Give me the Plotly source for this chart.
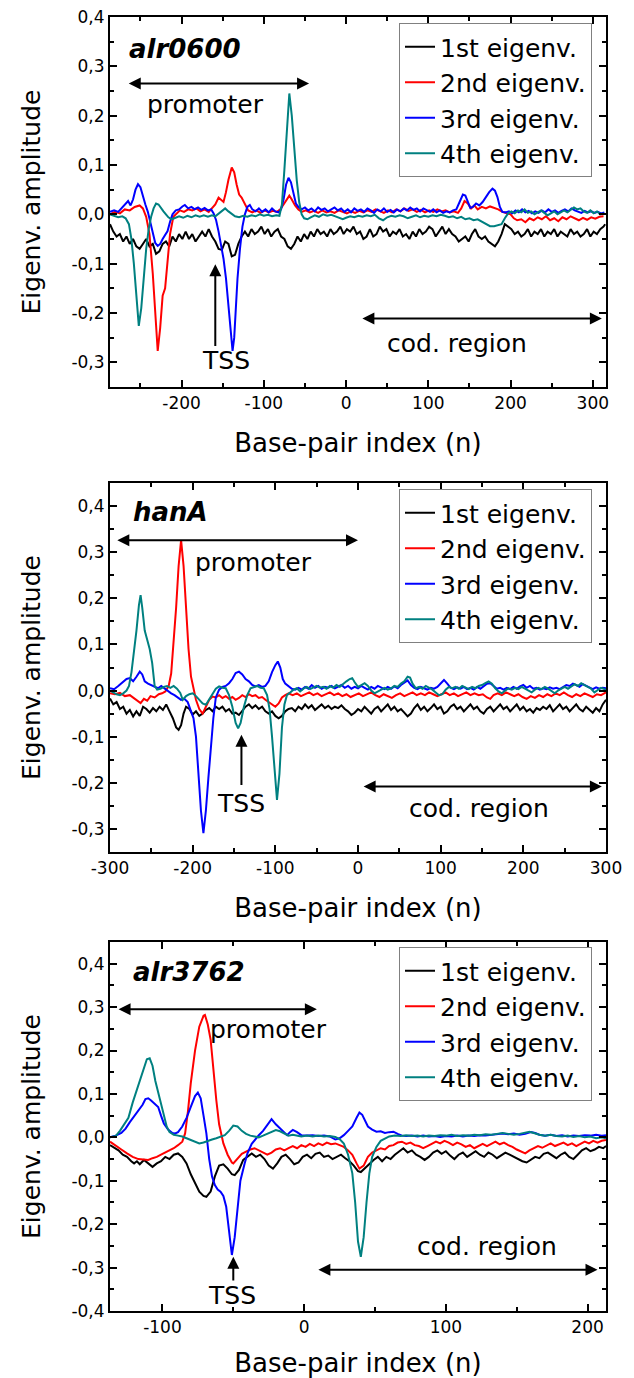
import plotly.graph_objects as go

# ---------------- DATA ----------------
series_names = ["1st eigenv.", "2nd eigenv.", "3rd eigenv.", "4th eigenv."]
series_colors = ["#000000", "#ff0000", "#0000ff", "#008080"]
gene_names = ["alr0600", "hanA", "alr3762"]

# panel 1: alr0600
alr0600_e1 = [(-287,-0.020),(-283,-0.035),(-279,-0.045),(-275,-0.040),(-271,-0.055),(-267,-0.045),(-263,-0.060),(-259,-0.050),(-255,-0.065),(-251,-0.070),(-247,-0.060),(-243,-0.050),(-239,-0.065),(-235,-0.060),(-231,-0.080),(-227,-0.075),(-223,-0.060),(-219,-0.055),(-215,-0.065),(-211,-0.045),(-207,-0.055),(-203,-0.040),(-199,-0.050),(-195,-0.035),(-191,-0.050),(-187,-0.040),(-183,-0.055),(-179,-0.045),(-175,-0.035),(-171,-0.045),(-167,-0.030),(-163,-0.045),(-159,-0.055),(-155,-0.070),(-151,-0.072),(-147,-0.055),(-143,-0.060),(-139,-0.085),(-135,-0.082),(-131,-0.060),(-127,-0.045),(-123,-0.035),(-119,-0.045),(-115,-0.030),(-111,-0.040),(-107,-0.035),(-103,-0.025),(-99,-0.040),(-95,-0.030),(-91,-0.045),(-87,-0.035),(-83,-0.030),(-79,-0.045),(-75,-0.050),(-71,-0.065),(-67,-0.070),(-63,-0.060),(-59,-0.045),(-55,-0.055),(-51,-0.040),(-47,-0.050),(-43,-0.035),(-39,-0.045),(-35,-0.030),(-31,-0.040),(-27,-0.035),(-23,-0.045),(-19,-0.030),(-15,-0.040),(-11,-0.035),(-7,-0.025),(-3,-0.040),(1,-0.030),(5,-0.035),(9,-0.025),(13,-0.040),(17,-0.035),(21,-0.050),(25,-0.045),(29,-0.030),(33,-0.045),(37,-0.040),(41,-0.025),(45,-0.035),(49,-0.030),(53,-0.045),(57,-0.035),(61,-0.040),(65,-0.030),(69,-0.045),(73,-0.040),(77,-0.050),(81,-0.035),(85,-0.045),(89,-0.030),(93,-0.040),(97,-0.035),(101,-0.025),(105,-0.030),(109,-0.045),(113,-0.035),(117,-0.025),(121,-0.040),(125,-0.030),(129,-0.040),(133,-0.045),(137,-0.055),(141,-0.050),(145,-0.045),(149,-0.055),(153,-0.040),(157,-0.030),(161,-0.045),(165,-0.050),(169,-0.045),(173,-0.055),(177,-0.060),(181,-0.065),(185,-0.055),(189,-0.040),(193,-0.020),(197,-0.025),(201,-0.030),(205,-0.040),(209,-0.035),(213,-0.045),(217,-0.040),(221,-0.030),(225,-0.045),(229,-0.035),(233,-0.040),(237,-0.030),(241,-0.045),(245,-0.035),(249,-0.040),(253,-0.030),(257,-0.045),(261,-0.035),(265,-0.040),(269,-0.045),(273,-0.030),(277,-0.040),(281,-0.035),(285,-0.045),(289,-0.040),(293,-0.030),(297,-0.045),(301,-0.035),(305,-0.040),(309,-0.030),(313,-0.025),(315,-0.020)]
alr0600_e2 = [(-287,0.000),(-281,0.005),(-275,0.002),(-269,0.010),(-263,0.008),(-257,0.015),(-251,0.018),(-247,0.012),(-243,-0.005),(-239,-0.040),(-235,-0.120),(-231,-0.240),(-229,-0.277),(-226,-0.230),(-223,-0.165),(-220,-0.150),(-217,-0.090),(-214,-0.040),(-210,-0.005),(-206,0.002),(-202,0.008),(-197,0.005),(-192,0.010),(-187,0.008),(-182,0.012),(-177,0.006),(-172,0.010),(-167,0.005),(-163,0.012),(-159,0.020),(-155,0.034),(-152,0.030),(-149,0.025),(-146,0.045),(-143,0.070),(-139,0.095),(-136,0.085),(-133,0.060),(-130,0.040),(-127,0.034),(-123,0.020),(-119,0.008),(-114,0.004),(-109,0.008),(-104,0.003),(-99,0.008),(-94,0.004),(-89,0.007),(-84,0.005),(-80,0.010),(-76,0.020),(-72,0.032),(-69,0.038),(-66,0.030),(-62,0.018),(-58,0.010),(-54,0.005),(-49,0.008),(-44,0.004),(-39,0.007),(-34,0.003),(-29,0.008),(-24,0.004),(-19,0.006),(-14,0.003),(-9,0.008),(-4,0.005),(1,0.002),(6,0.006),(11,0.003),(16,0.007),(21,0.004),(26,0.008),(31,0.005),(36,0.010),(41,0.006),(46,0.003),(51,0.008),(56,0.004),(61,0.010),(66,0.006),(71,0.012),(76,0.007),(81,0.010),(86,0.005),(91,0.009),(96,0.004),(101,0.008),(106,0.005),(111,0.010),(116,0.006),(121,0.008),(126,0.004),(131,0.006),(136,0.003),(140,0.012),(144,0.027),(148,0.022),(152,0.012),(156,0.018),(160,0.010),(165,0.015),(170,0.012),(175,0.016),(180,0.013),(185,0.010),(190,0.005),(195,0.002),(200,0.000),(204,-0.008),(208,-0.012),(213,-0.010),(218,-0.016),(223,-0.008),(228,-0.012),(233,-0.006),(238,-0.010),(243,-0.004),(248,-0.012),(253,-0.008),(258,-0.014),(263,-0.006),(268,-0.010),(273,-0.004),(278,-0.008),(283,-0.012),(288,-0.007),(293,-0.011),(298,-0.006),(303,-0.009),(308,-0.005),(313,-0.004)]
alr0600_e3 = [(-287,0.005),(-282,0.008),(-277,0.005),(-272,0.015),(-268,0.022),(-265,0.027),(-262,0.018),(-259,0.030),(-256,0.050),(-253,0.061),(-250,0.055),(-247,0.035),(-244,0.020),(-241,0.005),(-238,-0.015),(-235,-0.040),(-232,-0.058),(-229,-0.064),(-226,-0.060),(-223,-0.050),(-220,-0.042),(-217,-0.034),(-214,-0.015),(-211,0.000),(-207,0.008),(-203,0.010),(-199,0.016),(-196,0.019),(-192,0.012),(-188,0.015),(-184,0.010),(-180,0.014),(-176,0.009),(-172,0.013),(-168,0.008),(-164,0.010),(-161,0.002),(-158,-0.012),(-155,-0.035),(-152,-0.060),(-149,-0.090),(-146,-0.130),(-143,-0.180),(-140,-0.245),(-138,-0.277),(-136,-0.250),(-134,-0.190),(-132,-0.130),(-129,-0.070),(-126,-0.025),(-123,0.000),(-120,0.015),(-117,0.019),(-114,0.010),(-110,0.006),(-106,0.012),(-102,0.005),(-98,0.010),(-94,0.004),(-90,0.012),(-86,0.006),(-82,0.004),(-79,0.010),(-76,0.030),(-73,0.060),(-70,0.074),(-67,0.065),(-64,0.040),(-61,0.022),(-58,0.015),(-54,0.010),(-50,0.014),(-46,0.008),(-42,0.012),(-38,0.006),(-34,0.014),(-30,0.009),(-26,0.012),(-22,0.006),(-18,0.010),(-14,0.014),(-10,0.008),(-6,0.012),(-2,0.005),(2,0.010),(6,0.004),(10,0.012),(14,0.007),(18,0.010),(22,0.005),(26,0.012),(30,0.008),(34,0.003),(38,0.010),(42,0.006),(46,0.012),(50,0.005),(54,0.009),(58,0.004),(62,0.010),(66,0.006),(70,0.012),(74,0.008),(78,0.014),(82,0.009),(86,0.012),(90,0.006),(94,0.012),(98,0.008),(102,0.005),(106,0.010),(110,0.004),(114,0.008),(118,0.003),(122,0.006),(126,0.004),(130,0.008),(134,0.010),(138,0.025),(142,0.040),(145,0.038),(148,0.025),(151,0.013),(154,0.015),(158,0.022),(162,0.018),(166,0.025),(170,0.035),(174,0.045),(178,0.052),(181,0.048),(184,0.035),(187,0.015),(190,0.005),(194,0.004),(198,0.006),(202,0.002),(206,0.008),(210,0.004),(214,0.010),(218,0.004),(222,0.007),(226,0.002),(230,0.006),(234,0.003),(238,0.008),(242,0.004),(246,0.010),(250,0.005),(254,0.008),(258,0.003),(262,0.007),(266,0.010),(270,0.006),(274,0.012),(278,0.008),(282,0.006),(286,0.003),(290,0.007),(294,0.004),(298,0.006),(302,0.003),(306,0.005),(310,0.002),(314,0.004)]
alr0600_e4 = [(-287,0.000),(-282,-0.003),(-277,-0.006),(-272,-0.004),(-268,-0.008),(-264,-0.020),(-261,-0.050),(-258,-0.100),(-255,-0.170),(-252,-0.226),(-249,-0.190),(-246,-0.120),(-243,-0.070),(-240,-0.030),(-237,-0.005),(-234,0.012),(-231,0.022),(-228,0.020),(-225,0.012),(-222,0.006),(-219,0.000),(-216,-0.006),(-212,-0.010),(-208,-0.008),(-203,-0.004),(-198,-0.007),(-193,-0.003),(-188,-0.006),(-183,-0.002),(-178,-0.005),(-173,-0.002),(-168,-0.005),(-163,-0.002),(-159,-0.004),(-155,0.002),(-151,0.008),(-147,0.012),(-143,0.006),(-139,0.000),(-135,-0.004),(-130,-0.006),(-125,-0.003),(-120,-0.005),(-115,-0.002),(-110,-0.004),(-105,0.000),(-100,-0.003),(-95,-0.001),(-90,-0.004),(-85,-0.002),(-81,-0.003),(-78,0.020),(-75,0.090),(-72,0.180),(-69,0.245),(-66,0.200),(-63,0.130),(-60,0.070),(-57,0.025),(-54,0.000),(-51,-0.008),(-47,-0.010),(-43,-0.006),(-38,-0.002),(-33,-0.005),(-28,0.000),(-23,-0.003),(-18,-0.001),(-13,-0.004),(-8,-0.007),(-4,-0.010),(0,-0.007),(5,-0.004),(10,-0.006),(15,-0.003),(20,-0.005),(25,-0.002),(30,-0.004),(35,-0.001),(40,-0.008),(45,-0.012),(50,-0.006),(55,-0.003),(60,-0.005),(65,-0.002),(70,-0.004),(75,-0.008),(80,-0.005),(85,-0.002),(90,-0.006),(95,-0.003),(100,-0.005),(105,-0.002),(110,-0.004),(115,-0.001),(120,-0.003),(125,-0.006),(130,-0.004),(135,-0.008),(140,-0.005),(145,-0.010),(150,-0.008),(155,-0.012),(160,-0.010),(165,-0.015),(170,-0.020),(175,-0.024),(180,-0.024),(185,-0.022),(189,-0.020),(193,-0.008),(197,0.002),(201,0.006),(205,0.002),(209,0.008),(213,0.004),(217,0.010),(221,0.003),(225,0.006),(229,0.000),(233,0.004),(237,0.008),(241,0.003),(245,-0.002),(249,0.002),(253,0.006),(257,0.000),(261,0.004),(265,0.008),(269,0.004),(273,0.010),(277,0.014),(281,0.010),(285,0.012),(289,0.006),(293,0.003),(297,0.008),(301,0.002),(305,0.006),(309,0.000),(313,0.002)]

# panel 2: hanA
hanA_e1 = [(-300,-0.017),(-296,-0.030),(-292,-0.025),(-288,-0.040),(-284,-0.035),(-280,-0.050),(-276,-0.042),(-272,-0.056),(-268,-0.045),(-264,-0.055),(-260,-0.035),(-256,-0.040),(-252,-0.048),(-248,-0.038),(-244,-0.045),(-240,-0.035),(-236,-0.042),(-232,-0.030),(-228,-0.045),(-224,-0.060),(-220,-0.080),(-217,-0.085),(-214,-0.075),(-211,-0.050),(-208,-0.035),(-204,-0.040),(-200,-0.052),(-196,-0.045),(-192,-0.055),(-188,-0.050),(-184,-0.042),(-180,-0.038),(-176,-0.045),(-172,-0.035),(-168,-0.040),(-164,-0.035),(-160,-0.045),(-156,-0.040),(-152,-0.050),(-148,-0.048),(-144,-0.053),(-140,-0.045),(-136,-0.035),(-132,-0.030),(-128,-0.038),(-124,-0.032),(-120,-0.040),(-116,-0.035),(-112,-0.045),(-108,-0.050),(-104,-0.045),(-100,-0.055),(-96,-0.060),(-92,-0.055),(-88,-0.045),(-84,-0.040),(-80,-0.038),(-76,-0.045),(-72,-0.035),(-68,-0.040),(-64,-0.030),(-60,-0.038),(-56,-0.032),(-52,-0.042),(-48,-0.035),(-44,-0.030),(-40,-0.038),(-36,-0.033),(-32,-0.040),(-28,-0.035),(-24,-0.038),(-20,-0.032),(-16,-0.040),(-12,-0.045),(-8,-0.053),(-4,-0.048),(0,-0.040),(4,-0.045),(8,-0.035),(12,-0.042),(16,-0.050),(20,-0.040),(24,-0.035),(28,-0.045),(32,-0.038),(36,-0.030),(40,-0.042),(44,-0.035),(48,-0.045),(52,-0.040),(56,-0.048),(60,-0.056),(64,-0.050),(68,-0.038),(72,-0.030),(76,-0.042),(80,-0.035),(84,-0.045),(88,-0.038),(92,-0.030),(96,-0.040),(100,-0.035),(104,-0.050),(108,-0.045),(112,-0.035),(116,-0.030),(120,-0.040),(124,-0.035),(128,-0.045),(132,-0.038),(136,-0.030),(140,-0.040),(144,-0.035),(148,-0.045),(152,-0.050),(156,-0.040),(160,-0.035),(164,-0.045),(168,-0.038),(172,-0.030),(176,-0.040),(180,-0.035),(184,-0.045),(188,-0.038),(192,-0.030),(196,-0.042),(200,-0.035),(204,-0.045),(208,-0.040),(212,-0.048),(216,-0.038),(220,-0.042),(224,-0.035),(228,-0.040),(232,-0.032),(236,-0.045),(240,-0.038),(244,-0.030),(248,-0.040),(252,-0.035),(256,-0.045),(260,-0.038),(264,-0.030),(268,-0.040),(272,-0.045),(276,-0.035),(280,-0.042),(284,-0.048),(288,-0.038),(292,-0.045),(296,-0.030),(300,-0.020)]
hanA_e2 = [(-300,-0.006),(-294,-0.008),(-288,-0.005),(-282,-0.012),(-276,-0.010),(-270,-0.018),(-266,-0.025),(-263,-0.027),(-259,-0.018),(-255,-0.022),(-251,-0.012),(-246,-0.015),(-241,-0.008),(-237,-0.006),(-233,-0.002),(-229,0.010),(-226,0.037),(-223,0.100),(-220,0.180),(-217,0.270),(-214,0.326),(-211,0.270),(-208,0.180),(-205,0.090),(-202,0.030),(-199,0.005),(-196,-0.020),(-192,-0.040),(-188,-0.050),(-184,-0.035),(-180,-0.020),(-176,-0.013),(-172,-0.015),(-168,-0.010),(-164,-0.016),(-160,-0.012),(-156,-0.018),(-152,-0.014),(-148,-0.020),(-144,-0.016),(-140,-0.010),(-136,-0.014),(-132,-0.008),(-128,-0.012),(-124,-0.010),(-120,-0.016),(-116,-0.014),(-112,-0.020),(-108,-0.025),(-104,-0.030),(-100,-0.035),(-96,-0.028),(-92,-0.015),(-88,-0.010),(-84,-0.006),(-79,-0.010),(-74,-0.006),(-69,-0.012),(-64,-0.008),(-59,-0.004),(-54,-0.010),(-49,-0.006),(-44,-0.012),(-39,-0.008),(-34,-0.004),(-29,-0.010),(-24,-0.006),(-19,-0.012),(-14,-0.008),(-9,-0.014),(-4,-0.010),(1,-0.006),(6,-0.012),(11,-0.008),(16,-0.004),(21,-0.010),(26,-0.014),(31,-0.008),(36,-0.012),(41,-0.016),(46,-0.010),(51,-0.006),(56,-0.012),(61,-0.008),(66,-0.004),(71,-0.010),(76,-0.006),(81,-0.010),(86,-0.004),(91,-0.008),(96,-0.012),(101,-0.008),(106,-0.004),(111,-0.010),(116,-0.006),(121,-0.012),(126,-0.008),(131,-0.004),(136,-0.010),(141,-0.006),(146,-0.010),(151,-0.008),(156,-0.015),(160,-0.018),(164,-0.010),(169,-0.006),(174,-0.010),(179,-0.004),(184,-0.008),(189,-0.012),(194,-0.008),(199,-0.014),(204,-0.018),(209,-0.012),(214,-0.016),(219,-0.010),(224,-0.014),(229,-0.008),(234,-0.012),(239,-0.006),(244,-0.010),(249,-0.004),(254,-0.010),(259,-0.014),(264,-0.008),(269,-0.012),(274,-0.006),(279,-0.010),(284,-0.014),(289,-0.008),(294,-0.010),(300,-0.004)]
hanA_e3 = [(-300,0.005),(-295,0.003),(-290,0.010),(-285,0.018),(-280,0.025),(-276,0.027),(-272,0.020),(-268,0.030),(-264,0.041),(-261,0.035),(-258,0.020),(-254,0.015),(-250,0.012),(-246,0.008),(-242,0.005),(-238,0.010),(-234,0.004),(-230,-0.002),(-226,-0.006),(-222,-0.010),(-218,-0.015),(-214,-0.020),(-210,-0.018),(-206,-0.025),(-202,-0.045),(-199,-0.060),(-196,-0.100),(-193,-0.180),(-190,-0.260),(-187,-0.309),(-184,-0.260),(-181,-0.190),(-178,-0.120),(-175,-0.060),(-172,-0.015),(-168,0.002),(-164,0.008),(-160,0.010),(-156,0.016),(-152,0.025),(-148,0.038),(-144,0.041),(-140,0.035),(-136,0.025),(-132,0.020),(-128,0.012),(-124,0.009),(-120,0.012),(-116,0.008),(-112,0.010),(-108,0.020),(-104,0.040),(-100,0.055),(-97,0.063),(-94,0.050),(-91,0.025),(-88,0.015),(-84,0.010),(-80,0.004),(-76,0.002),(-72,0.006),(-68,0.002),(-64,0.008),(-60,0.004),(-56,0.012),(-52,0.006),(-48,0.010),(-44,0.004),(-40,0.008),(-36,0.006),(-32,0.010),(-28,0.005),(-24,0.009),(-20,0.012),(-16,0.006),(-12,0.010),(-8,0.004),(-4,0.008),(0,0.005),(4,0.010),(8,0.006),(12,0.002),(16,0.008),(20,0.004),(24,0.010),(28,0.006),(32,0.003),(36,0.008),(40,0.004),(44,0.009),(48,0.005),(52,0.012),(56,0.018),(60,0.022),(64,0.012),(68,0.006),(72,0.003),(76,0.008),(80,0.005),(84,0.002),(88,0.006),(92,0.004),(96,0.008),(100,0.015),(104,0.023),(108,0.015),(112,0.006),(116,0.003),(120,0.007),(124,0.004),(128,0.008),(132,0.003),(136,0.006),(140,0.002),(144,0.008),(148,0.004),(152,0.010),(156,0.015),(160,0.016),(164,0.010),(168,0.004),(172,0.006),(176,0.002),(180,0.006),(184,0.003),(188,0.008),(192,0.004),(196,0.009),(200,0.012),(204,0.006),(208,0.010),(212,0.004),(216,0.006),(220,0.002),(224,0.005),(228,0.003),(232,0.007),(236,0.004),(240,0.006),(244,0.003),(248,0.008),(252,0.012),(256,0.010),(260,0.015),(264,0.012),(268,0.008),(272,0.014),(276,0.010),(280,0.006),(284,0.003),(288,0.007),(292,0.004),(296,0.006),(300,0.005)]
hanA_e4 = [(-300,0.000),(-296,-0.004),(-292,-0.008),(-288,-0.010),(-284,-0.006),(-280,0.000),(-277,0.010),(-274,0.040),(-271,0.080),(-268,0.130),(-265,0.185),(-263,0.207),(-261,0.180),(-258,0.130),(-255,0.110),(-252,0.090),(-249,0.060),(-246,0.010),(-243,0.002),(-239,0.004),(-235,0.008),(-231,0.010),(-227,0.006),(-223,0.010),(-219,0.004),(-215,-0.005),(-212,-0.020),(-208,-0.012),(-204,-0.008),(-200,-0.006),(-196,-0.012),(-192,-0.020),(-188,-0.028),(-184,-0.031),(-180,-0.020),(-176,-0.008),(-172,0.004),(-168,0.009),(-164,0.006),(-160,0.005),(-156,-0.010),(-152,-0.035),(-148,-0.070),(-145,-0.082),(-142,-0.070),(-138,-0.035),(-134,-0.010),(-130,0.005),(-126,0.008),(-122,0.010),(-118,0.006),(-114,0.005),(-110,-0.010),(-107,-0.040),(-104,-0.100),(-101,-0.180),(-98,-0.237),(-95,-0.180),(-92,-0.080),(-89,-0.030),(-86,-0.010),(-82,-0.004),(-78,0.002),(-74,0.005),(-70,-0.002),(-66,0.004),(-62,0.008),(-58,0.003),(-54,0.006),(-50,0.010),(-46,0.006),(-42,0.008),(-38,0.004),(-34,0.010),(-30,0.006),(-26,0.012),(-22,0.008),(-18,0.015),(-14,0.020),(-10,0.025),(-7,0.027),(-4,0.018),(0,0.008),(4,0.012),(8,0.016),(12,0.010),(16,0.000),(20,-0.006),(24,-0.002),(28,0.003),(32,0.006),(36,0.002),(40,0.005),(44,0.010),(48,0.008),(52,0.015),(56,0.020),(60,0.030),(63,0.028),(66,0.015),(70,0.005),(74,0.008),(78,0.004),(82,0.010),(86,0.006),(90,0.002),(94,-0.004),(98,-0.010),(102,-0.008),(106,0.002),(110,0.008),(114,0.005),(118,0.008),(122,0.004),(126,0.010),(130,0.006),(134,0.003),(138,0.008),(142,0.005),(146,0.010),(150,0.012),(154,0.016),(158,0.020),(162,0.015),(166,0.005),(170,-0.002),(174,-0.006),(178,0.000),(182,0.005),(186,0.002),(190,0.006),(194,0.003),(198,0.008),(202,0.004),(206,0.000),(210,-0.004),(214,0.002),(218,0.006),(222,0.003),(226,0.008),(230,0.004),(234,-0.002),(238,-0.006),(242,0.000),(246,0.004),(250,0.008),(254,0.004),(258,0.010),(262,0.014),(266,0.010),(270,0.016),(274,0.012),(278,0.008),(282,0.004),(286,-0.004),(290,0.002),(294,0.006),(298,0.003),(300,0.000)]

# panel 3: alr3762
alr3762_e1 = [(-137,-0.018),(-134,-0.025),(-131,-0.030),(-128,-0.040),(-125,-0.045),(-122,-0.055),(-120,-0.060),(-118,-0.055),(-116,-0.062),(-113,-0.052),(-110,-0.060),(-107,-0.068),(-104,-0.060),(-101,-0.055),(-98,-0.045),(-95,-0.050),(-92,-0.040),(-89,-0.037),(-86,-0.045),(-83,-0.060),(-80,-0.085),(-77,-0.106),(-74,-0.125),(-71,-0.135),(-69,-0.137),(-66,-0.125),(-63,-0.090),(-60,-0.065),(-57,-0.062),(-54,-0.072),(-51,-0.085),(-49,-0.087),(-46,-0.075),(-43,-0.052),(-40,-0.045),(-37,-0.037),(-34,-0.045),(-31,-0.040),(-28,-0.050),(-25,-0.065),(-22,-0.072),(-19,-0.060),(-16,-0.045),(-13,-0.040),(-10,-0.050),(-7,-0.062),(-4,-0.058),(-1,-0.045),(2,-0.040),(5,-0.048),(8,-0.038),(11,-0.035),(14,-0.045),(17,-0.042),(20,-0.050),(23,-0.045),(26,-0.040),(29,-0.048),(32,-0.055),(35,-0.065),(38,-0.078),(40,-0.080),(43,-0.070),(46,-0.060),(49,-0.052),(52,-0.045),(55,-0.055),(58,-0.045),(61,-0.050),(64,-0.040),(67,-0.032),(70,-0.025),(73,-0.035),(76,-0.030),(79,-0.040),(82,-0.045),(85,-0.052),(88,-0.045),(91,-0.035),(94,-0.030),(97,-0.038),(100,-0.032),(103,-0.042),(106,-0.050),(109,-0.040),(112,-0.035),(115,-0.045),(118,-0.038),(121,-0.032),(124,-0.040),(127,-0.045),(130,-0.035),(133,-0.040),(136,-0.048),(139,-0.042),(142,-0.035),(145,-0.040),(148,-0.045),(151,-0.050),(154,-0.055),(157,-0.058),(160,-0.052),(163,-0.045),(166,-0.048),(169,-0.038),(172,-0.035),(175,-0.042),(178,-0.048),(181,-0.040),(184,-0.035),(187,-0.045),(190,-0.050),(193,-0.040),(196,-0.030),(199,-0.025),(202,-0.032),(205,-0.028),(208,-0.022),(211,-0.025),(213,-0.020)]
alr3762_e2 = [(-137,-0.010),(-133,-0.018),(-129,-0.028),(-125,-0.037),(-121,-0.045),(-117,-0.050),(-113,-0.052),(-110,-0.052),(-107,-0.048),(-104,-0.045),(-101,-0.040),(-98,-0.035),(-95,-0.030),(-92,-0.025),(-89,-0.018),(-86,-0.010),(-84,0.009),(-82,0.060),(-80,0.125),(-77,0.200),(-74,0.255),(-71,0.280),(-70,0.282),(-68,0.260),(-66,0.225),(-64,0.150),(-62,0.086),(-60,0.030),(-57,-0.014),(-54,-0.040),(-51,-0.058),(-50,-0.060),(-47,-0.050),(-44,-0.038),(-41,-0.033),(-38,-0.028),(-35,-0.025),(-32,-0.030),(-29,-0.035),(-26,-0.040),(-23,-0.035),(-20,-0.028),(-17,-0.025),(-14,-0.030),(-11,-0.025),(-8,-0.020),(-5,-0.025),(-2,-0.018),(1,-0.022),(4,-0.015),(7,-0.020),(10,-0.014),(13,-0.018),(16,-0.012),(19,-0.016),(22,-0.014),(25,-0.018),(28,-0.022),(31,-0.030),(34,-0.040),(37,-0.060),(39,-0.072),(42,-0.065),(45,-0.045),(48,-0.035),(51,-0.030),(54,-0.025),(57,-0.028),(60,-0.020),(63,-0.018),(66,-0.012),(69,-0.010),(72,-0.015),(75,-0.012),(78,-0.018),(81,-0.020),(84,-0.025),(87,-0.020),(90,-0.015),(93,-0.010),(96,-0.014),(99,-0.008),(102,-0.012),(105,-0.018),(108,-0.012),(111,-0.016),(114,-0.022),(117,-0.018),(120,-0.025),(123,-0.020),(126,-0.015),(129,-0.020),(132,-0.014),(135,-0.010),(138,-0.016),(141,-0.012),(144,-0.018),(147,-0.022),(150,-0.028),(153,-0.033),(156,-0.037),(159,-0.030),(162,-0.025),(165,-0.020),(168,-0.024),(171,-0.018),(174,-0.014),(177,-0.020),(180,-0.016),(183,-0.012),(186,-0.018),(189,-0.014),(192,-0.020),(195,-0.015),(198,-0.010),(201,-0.014),(204,-0.008),(207,-0.012),(210,-0.008),(213,-0.006)]
alr3762_e3 = [(-137,0.000),(-133,0.004),(-129,0.010),(-126,0.020),(-123,0.035),(-120,0.048),(-117,0.060),(-114,0.075),(-112,0.088),(-110,0.090),(-108,0.085),(-105,0.075),(-103,0.070),(-101,0.050),(-99,0.032),(-96,0.018),(-93,0.010),(-91,0.009),(-89,0.012),(-86,0.025),(-83,0.045),(-80,0.070),(-77,0.095),(-75,0.103),(-73,0.090),(-71,0.050),(-69,0.009),(-67,-0.050),(-65,-0.090),(-63,-0.110),(-61,-0.120),(-59,-0.125),(-57,-0.135),(-55,-0.160),(-53,-0.220),(-51,-0.271),(-49,-0.230),(-47,-0.160),(-45,-0.100),(-42,-0.060),(-40,-0.037),(-37,-0.015),(-35,-0.006),(-32,0.005),(-29,0.015),(-26,0.030),(-23,0.042),(-20,0.030),(-17,0.021),(-14,0.010),(-12,0.005),(-10,0.012),(-8,0.017),(-5,0.012),(-2,0.005),(2,0.004),(6,0.005),(10,0.003),(14,0.004),(18,0.002),(22,-0.005),(25,-0.002),(28,0.005),(31,0.015),(34,0.025),(37,0.045),(39,0.057),(41,0.052),(43,0.040),(45,0.025),(48,0.018),(51,0.013),(54,0.014),(57,0.010),(60,0.012),(63,0.013),(66,0.008),(69,0.004),(72,0.003),(76,0.004),(80,0.002),(84,0.004),(88,0.002),(92,0.003),(96,0.001),(100,0.003),(104,0.002),(108,0.004),(112,0.002),(116,0.004),(120,0.003),(124,0.005),(128,0.004),(132,0.006),(136,0.008),(140,0.009),(144,0.007),(148,0.009),(152,0.006),(156,0.008),(160,0.012),(163,0.010),(166,0.006),(170,0.004),(174,0.006),(178,0.003),(182,0.005),(186,0.002),(190,0.004),(194,0.003),(198,0.005),(202,0.004),(206,0.006),(210,0.004),(213,0.005)]
alr3762_e4 = [(-137,0.000),(-133,0.003),(-130,0.015),(-127,0.030),(-124,0.045),(-121,0.080),(-118,0.110),(-116,0.125),(-113,0.160),(-111,0.180),(-109,0.182),(-107,0.165),(-105,0.130),(-103,0.105),(-101,0.075),(-99,0.050),(-97,0.025),(-95,0.012),(-92,0.006),(-89,0.004),(-86,0.002),(-83,-0.002),(-80,-0.006),(-77,-0.010),(-74,-0.014),(-71,-0.012),(-68,-0.008),(-65,-0.005),(-62,-0.002),(-59,0.002),(-56,0.005),(-53,0.015),(-50,0.027),(-47,0.025),(-44,0.015),(-41,0.008),(-38,0.004),(-35,0.002),(-32,0.000),(-29,0.004),(-26,0.008),(-23,0.012),(-20,0.017),(-17,0.014),(-14,0.008),(-11,0.004),(-8,0.006),(-5,0.004),(-2,0.002),(2,0.004),(6,0.002),(10,0.004),(14,0.002),(18,0.003),(22,0.001),(25,-0.004),(28,-0.014),(31,-0.040),(34,-0.083),(36,-0.150),(38,-0.240),(40,-0.275),(42,-0.230),(44,-0.150),(46,-0.083),(48,-0.045),(51,-0.022),(54,-0.008),(57,-0.002),(60,0.002),(64,0.004),(68,0.003),(72,0.005),(76,0.003),(80,0.004),(84,0.002),(88,0.004),(92,0.003),(96,0.005),(100,0.004),(104,0.006),(108,0.003),(112,0.005),(116,0.004),(120,0.006),(124,0.005),(128,0.007),(132,0.006),(136,0.008),(140,0.010),(144,0.008),(148,0.006),(152,0.008),(156,0.010),(159,0.013),(162,0.010),(166,0.006),(170,0.004),(174,0.006),(178,0.003),(182,0.002),(186,0.004),(190,0.001),(194,0.003),(198,0.000),(202,0.002),(206,-0.002),(210,0.000),(213,-0.002)]

# axis ranges and ticks
x_ranges = [[-287, 316], [-300, 300], [-137, 213]]
y_ranges = [[-0.35, 0.40], [-0.35, 0.45], [-0.40, 0.45]]
x_tickvals = [[-200, -100, 0, 100, 200, 300], [-300, -200, -100, 0, 100, 200, 300], [-100, 0, 100, 200]]
x_ticktext = [["-200", "-100", "0", "100", "200", "300"], ["-300", "-200", "-100", "0", "100", "200", "300"], ["-100", "0", "100", "200"]]
x_minor = [[-250, -150, -50, 50, 150, 250], [-250, -150, -50, 50, 150, 250], [-50, 50, 150]]
y_tickvals = [[-0.3, -0.2, -0.1, 0.0, 0.1, 0.2, 0.3, 0.4], [-0.3, -0.2, -0.1, 0.0, 0.1, 0.2, 0.3, 0.4], [-0.4, -0.3, -0.2, -0.1, 0.0, 0.1, 0.2, 0.3, 0.4]]
y_ticktext = [["-0,3", "-0,2", "-0,1", "0,0", "0,1", "0,2", "0,3", "0,4"], ["-0,3", "-0,2", "-0,1", "0,0", "0,1", "0,2", "0,3", "0,4"], ["-0,4", "-0,3", "-0,2", "-0,1", "0,0", "0,1", "0,2", "0,3", "0,4"]]
y_minor = [[-0.25, -0.15, -0.05, 0.05, 0.15, 0.25, 0.35], [-0.25, -0.15, -0.05, 0.05, 0.15, 0.25, 0.35], [-0.35, -0.25, -0.15, -0.05, 0.05, 0.15, 0.25, 0.35]]

# annotation anchors (data units): gene label, promoter span, TSS, coding region span
gene_label_pos = [(-266, 0.335), (-274, 0.388), (-122, 0.382)]
promoter_span = [(-266, -45, 0.265), (-293, 0, 0.326), (-132, 9, 0.295)]
promoter_text = [(-171, 0.222), (-126, 0.277), (-25, 0.248)]
tss_arrow = [(-159, -0.270, -0.101), (-141, -0.208, -0.096), (-50, -0.333, -0.275)]
tss_text = [(-146, -0.297), (-141, -0.244), (-51, -0.364)]
coding_span = [(18, 311, -0.211), (5, 295, -0.208), (9, 207, -0.305)]
coding_text = [(135, -0.262), (146, -0.255), (129, -0.252)]

# ---------------- FIGURE ----------------
FONT = "DejaVu Sans, Liberation Sans, Arial, sans-serif"
W, H = 634, 1378
x_dom = [110 / W, 606 / W]
y_doms_px = [(17, 387), (483, 852), (942, 1311)]
legend_tops_px = [23, 489, 947]

panels = [
    [alr0600_e1, alr0600_e2, alr0600_e3, alr0600_e4],
    [hanA_e1, hanA_e2, hanA_e3, hanA_e4],
    [alr3762_e1, alr3762_e2, alr3762_e3, alr3762_e4],
]

fig = go.Figure()
annotations = []
layout = dict(
    width=W, height=H, margin=dict(l=0, r=0, t=0, b=0, autoexpand=False),
    paper_bgcolor="white", plot_bgcolor="white",
    font=dict(family=FONT, color="black"),
    showlegend=True, hovermode=False,
)

for p, series in enumerate(panels):
    sfx = "" if p == 0 else str(p + 1)
    xref, yref = "x" + sfx, "y" + sfx
    leg = "legend" + sfx
    for s, pts in enumerate(series):
        fig.add_trace(go.Scatter(
            x=[v[0] for v in pts], y=[v[1] for v in pts], mode="lines",
            name=series_names[s], line=dict(color=series_colors[s], width=2),
            xaxis=xref, yaxis=yref, legend=leg, showlegend=True,
        ))
    top, bot = y_doms_px[p]
    axis_common = dict(
        showline=True, linewidth=2, linecolor="black", mirror="allticks",
        ticks="inside", ticklen=7, tickwidth=1.5, tickcolor="black",
        showgrid=False, zeroline=False, automargin=False,
        tickfont=dict(family=FONT, size=17, color="black"),
    )
    layout["xaxis" + sfx] = dict(
        axis_common, domain=x_dom, range=x_ranges[p], anchor=yref,
        tickmode="array", tickvals=x_tickvals[p], ticktext=x_ticktext[p],
        minor=dict(tickvals=x_minor[p], ticks="inside", ticklen=4, tickwidth=1.5, tickcolor="black"),
        title=dict(text="Base-pair index (n)", font=dict(family=FONT, size=26), standoff=21),
    )
    layout["yaxis" + sfx] = dict(
        axis_common, domain=[1 - bot / H, 1 - top / H], range=y_ranges[p], anchor=xref,
        tickmode="array", tickvals=y_tickvals[p], ticktext=y_ticktext[p],
        minor=dict(tickvals=y_minor[p], ticks="inside", ticklen=4, tickwidth=1.5, tickcolor="black"),
        title=dict(text="Eigenv. amplitude", font=dict(family=FONT, size=25), standoff=24),
    )
    layout[leg] = dict(
        x=399 / W, y=1 - legend_tops_px[p] / H, xanchor="left", yanchor="top",
        xref="paper", yref="paper",
        bgcolor="white", bordercolor="#808080", borderwidth=1,
        font=dict(family=FONT, size=25, color="black"),
        tracegroupgap=0, itemwidth=30,
    )

    gx, gy = gene_label_pos[p]
    annotations.append(dict(x=gx, y=gy, xref=xref, yref=yref, text="<b><i>" + gene_names[p] + "</i></b>",
                            showarrow=False, xanchor="left", yanchor="middle",
                            font=dict(family=FONT, size=26, color="black")))
    a0, a1, ay = promoter_span[p]
    annotations.append(dict(x=a1, y=ay, ax=a0, ay=ay, xref=xref, yref=yref, axref=xref, ayref=yref,
                            text="", showarrow=True, arrowhead=2, startarrowhead=2, arrowside="end+start",
                            arrowsize=1.2, startarrowsize=1.2, arrowwidth=2, arrowcolor="black"))
    tx, ty = promoter_text[p]
    annotations.append(dict(x=tx, y=ty, xref=xref, yref=yref, text="promoter", showarrow=False,
                            font=dict(family=FONT, size=25, color="black")))
    sx, sy0, sy1 = tss_arrow[p]
    annotations.append(dict(x=sx, y=sy1, ax=sx, ay=sy0, xref=xref, yref=yref, axref=xref, ayref=yref,
                            text="", showarrow=True, arrowhead=2, arrowsize=1.2, arrowwidth=2, arrowcolor="black"))
    tx, ty = tss_text[p]
    annotations.append(dict(x=tx, y=ty, xref=xref, yref=yref, text="TSS", showarrow=False,
                            font=dict(family=FONT, size=25, color="black")))
    c0, c1, cy = coding_span[p]
    annotations.append(dict(x=c1, y=cy, ax=c0, ay=cy, xref=xref, yref=yref, axref=xref, ayref=yref,
                            text="", showarrow=True, arrowhead=2, startarrowhead=2, arrowside="end+start",
                            arrowsize=1.2, startarrowsize=1.2, arrowwidth=2, arrowcolor="black"))
    tx, ty = coding_text[p]
    annotations.append(dict(x=tx, y=ty, xref=xref, yref=yref, text="cod. region", showarrow=False,
                            font=dict(family=FONT, size=25, color="black")))

layout["annotations"] = annotations
fig.update_layout(**layout)
# remove the page's default body margin so the figure sits at the window origin; hide the mode bar
fig.write_html("out.html", config={"displayModeBar": False},
               post_script="document.body.style.margin='0';document.body.style.overflow='hidden';")
